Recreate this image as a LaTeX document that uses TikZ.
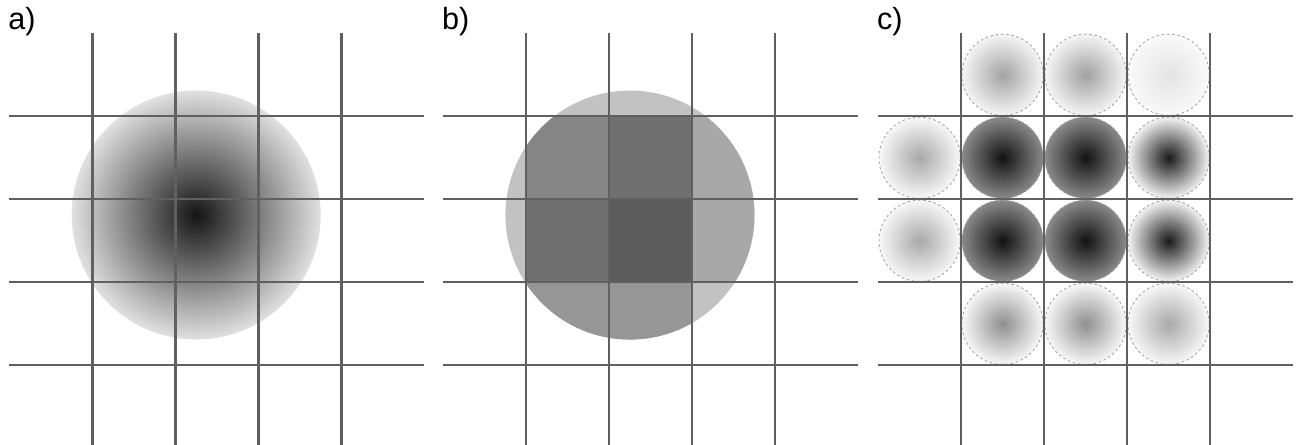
\documentclass[tikz,border=0pt]{standalone}
\usepackage{fontspec}
\setmainfont{Liberation Sans}
\usetikzlibrary{positioning}
\definecolor{Grid}{HTML}{606060}
\definecolor{Base}{HTML}{C2C2C2}

\begin{document}
\begin{tikzpicture}[
    g/.style={draw=Grid,line width=0.8pt},
    lb/.style={anchor=base west,inner sep=0pt,font=\fontsize{10.5}{12}\selectfont},
    k/.style={draw=black!35,dash pattern=on 0.9pt off 0.9pt,line width=0.3pt}]
  \useasboundingbox (0,0) rectangle (15.627,5.361);
  % a) continuous kernel
  \begin{scope}[shift={(0.114,-0.04)}]
    \shade[inner color=black!92,outer color=black!12] (2.25,2.81) circle (1.5);
    \foreach \i in {1,...,4} {
      \draw[g] (\i,0.04) -- (\i,5);
      \draw[g] (0,\i) -- (5,\i);}
    \node[lb] (la) at (-0.02,5.04) {a)};
  \end{scope}
  % b) cell averages
  \begin{scope}[shift={(5.34,-0.04)}]
    \begin{scope}
      \clip (2.25,2.81) circle (1.5);
      \fill[Base] (0,0) rectangle (5,5);
      \foreach \x/\y/\c in {1/3/black!48,2/3/black!56,1/2/black!56,2/2/black!64,
                            3/3/black!34,3/2/black!34,1/1/black!41,2/1/black!41}
        \fill[\c] (\x,\y) rectangle ++(1,1);
    \end{scope}
    \foreach \i in {1,...,4} {
      \draw[g] (\i,0.04) -- (\i,5);
      \draw[g] (0,\i) -- (5,\i);}
    \node[lb] (lb) at (-0.02,5.04) {b)};
  \end{scope}
  % c) one kernel per cell
  \begin{scope}[shift={(10.58,-0.04)}]
    \foreach \x/\y/\ci/\co in {1/4/black!36/black!4,2/4/black!37/black!4,3/4/black!11/black!2,
                               0/3/black!34/black!3,1/3/black!93/black!46,2/3/black!93/black!46,3/3/black!90/black!5,
                               0/2/black!34/black!3,1/2/black!93/black!46,2/2/black!93/black!46,3/2/black!90/black!5,
                               1/1/black!44/black!3,2/1/black!44/black!3,3/1/black!34/black!3}
      \shade[k,inner color=\ci,outer color=\co] (\x+0.5,\y+0.5) circle (0.49);
    \foreach \i in {1,...,4} {
      \draw[g] (\i,0.04) -- (\i,5);
      \draw[g] (0,\i) -- (5,\i);}
    \node[lb] (lc) at (-0.02,5.04) {c)};
  \end{scope}
\end{tikzpicture}
\end{document}
